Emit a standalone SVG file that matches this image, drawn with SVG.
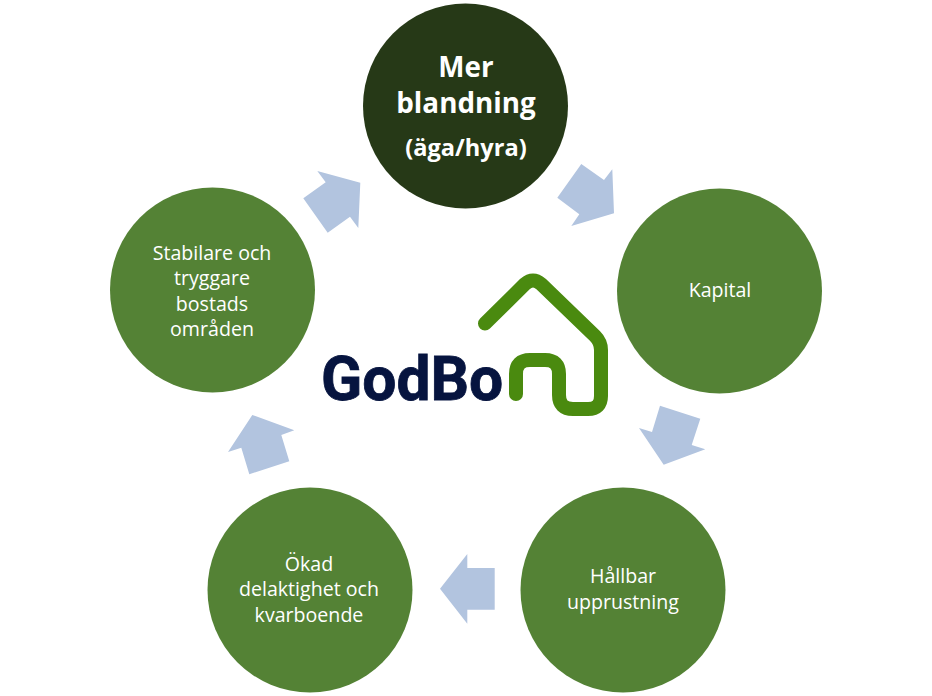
<svg xmlns="http://www.w3.org/2000/svg" width="932" height="696" viewBox="0 0 932 696">
<style>
.c{fill:#548235}
.top{fill:#263917}
.a{fill:#b2c4df}
text{font-family:"Open Sans","Noto Sans","Liberation Sans",sans-serif;fill:#fff;text-anchor:middle}
.t{font-size:19.6px}
.b{font-weight:700}
.logo{font-family:Roboto,"Liberation Sans",sans-serif;font-weight:700;font-size:60.5px;fill:#06143f;stroke:#06143f;stroke-width:.8px;text-anchor:start}
</style>
<rect width="932" height="696" fill="#fff"/>
<g id="connectors">
<polygon class="a" points="581.3,164 604,180 612.3,169.3 614,213.3 571.3,226 579.3,214.3 557.3,197.7"/>
<polygon class="a" points="660,405.7 700.3,418.7 691.7,445 705.3,449.3 663.7,464.7 639,428 652,432"/>
<polygon class="a" points="440,588.7 467.3,554 467.3,568 494.7,568 494.7,609.7 467.3,609.7 467.3,623.7"/>
<polygon class="a" points="252.3,415 294.3,430.3 281.3,435 289.3,461.3 249.3,474.3 241.3,447.7 228,452"/>
<polygon class="a" points="317.3,171 360.3,182.7 358.3,228 350,216.7 327.7,232.7 303.3,198.3 325.7,182.3"/>
</g>
<g id="node-blandning">
<circle class="top" cx="465.5" cy="106" r="102.5"/>
<text class="b" x="466" y="77" font-size="27.8">Mer</text>
<text class="b" x="466" y="113" font-size="27.8">blandning</text>
<text class="b" x="466" y="156" font-size="23.6">(äga/hyra)</text>
</g>
<g id="node-kapital">
<circle class="c" cx="719.5" cy="291" r="102.5"/>
<text class="t" x="720" y="297">Kapital</text>
</g>
<g id="node-upprustning">
<circle class="c" cx="623" cy="590" r="102.5"/>
<text class="t" x="623" y="583">Hållbar</text>
<text class="t" x="623" y="609">upprustning</text>
</g>
<g id="node-delaktighet">
<circle class="c" cx="310" cy="590" r="102.5"/>
<text class="t" x="309" y="571">Ökad</text>
<text class="t" x="309" y="596">delaktighet och</text>
<text class="t" x="309" y="622">kvarboende</text>
</g>
<g id="node-stabilare">
<circle class="c" cx="212.5" cy="290" r="102.5"/>
<text class="t" x="212" y="260">Stabilare och</text>
<text class="t" x="212" y="285">tryggare</text>
<text class="t" x="212" y="311">bostads</text>
<text class="t" x="212" y="336">områden</text>
</g>
<g id="logo">
<text class="logo" x="321" y="400">GodBo</text>
<path d="M485 323.5L525 284Q533 277 541 284L595 336Q601 342 601 350V396Q601 409 588 409H573Q559 409 559 395V374Q559 360 545 360H530Q516 360 516 374V394" fill="none" stroke="#4a8a0f" stroke-width="14" stroke-linecap="round"/>
</g>
</svg>
